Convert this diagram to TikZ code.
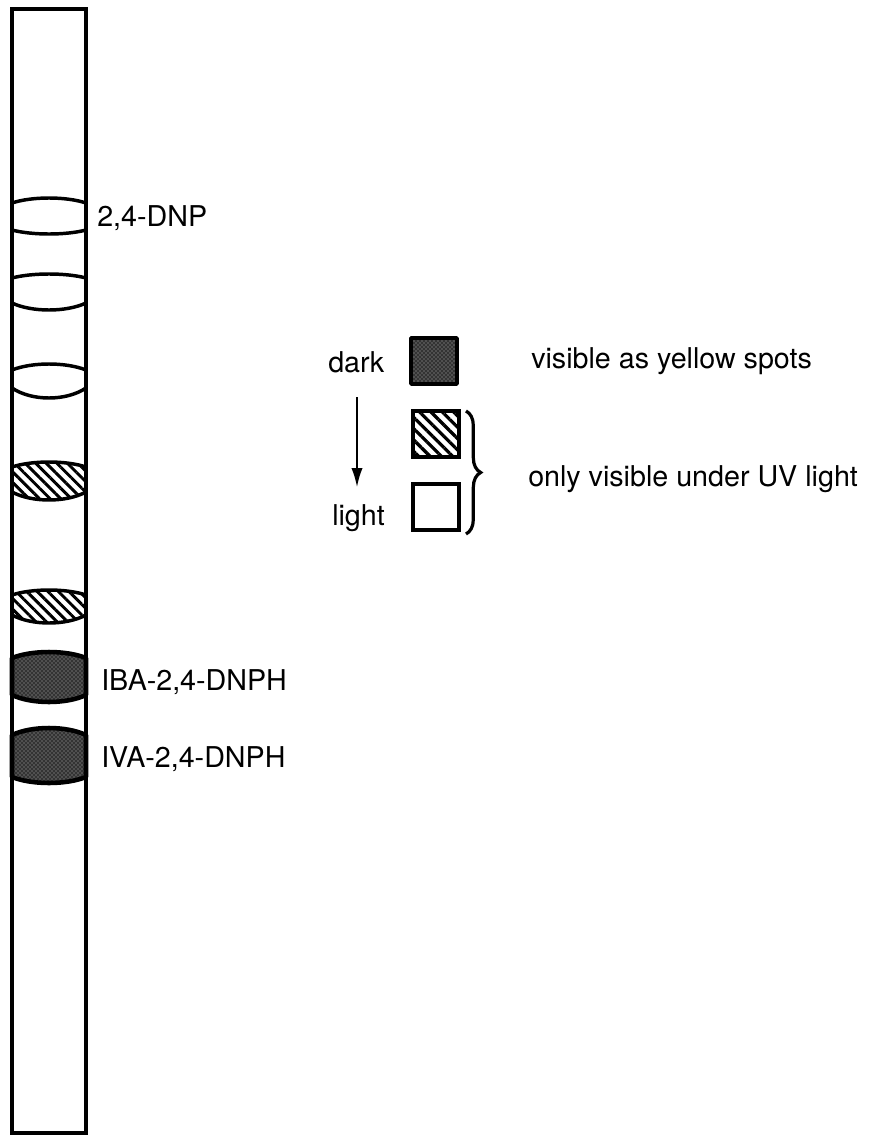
\documentclass[tikz,border=0pt]{standalone}
\usepackage{fontspec}
\setmainfont{TeX Gyre Heros}
\usetikzlibrary{patterns,patterns.meta,decorations.pathreplacing,arrows.meta}
% band between the strip walls: #2 top at wall, #3 top at middle, #4 bottom at wall, #5 bottom at middle
\newcommand\spotband[5]{%
  \path[#1] (12,#2) .. controls (32,{#2+(#3-#2)*4/3}) and (66,{#2+(#3-#2)*4/3}) .. (86,#2)
    -- (86,#4) .. controls (66,{#4+(#5-#4)*4/3}) and (32,{#4+(#5-#4)*4/3}) .. (12,#4) -- cycle;}
\tikzset{
  spotline/.style={line width=2.6pt, line join=round},
  openspot/.style={spotline, draw},
  hatchspot/.style={spotline, draw, pattern={Lines[angle=-45,distance=5.6pt,line width=2.2pt]}},
  darkspot/.style={spotline, line width=3.4pt, draw, preaction={fill=black!80}, pattern=crosshatch dots, pattern color=black!30},
  legendbox/.style={rectangle, minimum size=34.5pt, inner sep=0pt, line width=2.4pt, draw},
  lbl/.style={inner sep=0pt, anchor=base west, font=\fontsize{21.5}{26}\selectfont},
}
\begin{document}
\begin{tikzpicture}[x=0.75pt,y=-0.75pt]
\useasboundingbox (0,0) rectangle (883,1135);
% spots
\spotband{openspot}{203}{198}{230}{234}
\spotband{openspot}{278}{274}{303}{310}
\spotband{openspot}{370}{364}{388}{398}
\spotband{hatchspot}{467}{462}{492}{500}
\spotband{hatchspot}{595}{590}{615}{623}
\spotband{darkspot}{658}{652}{695}{702}
\spotband{darkspot}{735}{728}{777}{783}
% strip
\draw[line width=2.8pt, line join=miter] (12,9) rectangle (86,1133);
% strip labels
\node[lbl] (dnp) at (97,226) {2,4-DNP};
\node[lbl] (iba) at (101,690) {IBA-2,4-DNPH};
\node[lbl] (iva) at (101,767) {IVA-2,4-DNPH};
% legend
\node[lbl] (dark) at (328,372) {dark};
\node[lbl] (light) at (332,525) {light};
\coordinate (arrtop) at (357,397);
\coordinate (arrbot) at (357,488);
\draw[line width=2.2pt, -{Latex[length=15pt,width=8.5pt]}] (arrtop) -- (arrbot);
\node[legendbox, darkspot, line width=2.6pt] (bdark) at (434,361) {};
\node[legendbox, pattern={Lines[angle=-45,distance=6pt,line width=2.4pt]}] (bhatch) at (436,434) {};
\node[legendbox] (blight) at (436,507) {};
\coordinate (bracetop) at (466,411);
\coordinate (bracebot) at (466,534);
\draw[line width=2.4pt, decorate, decoration={brace, amplitude=11pt, aspect=0.5}] (bracetop) -- (bracebot);
\node[lbl] (yellow) at (531,368) {visible as yellow spots};
\node[lbl] (uv) at (528,486) {only visible under UV light};
\end{tikzpicture}
\end{document}
